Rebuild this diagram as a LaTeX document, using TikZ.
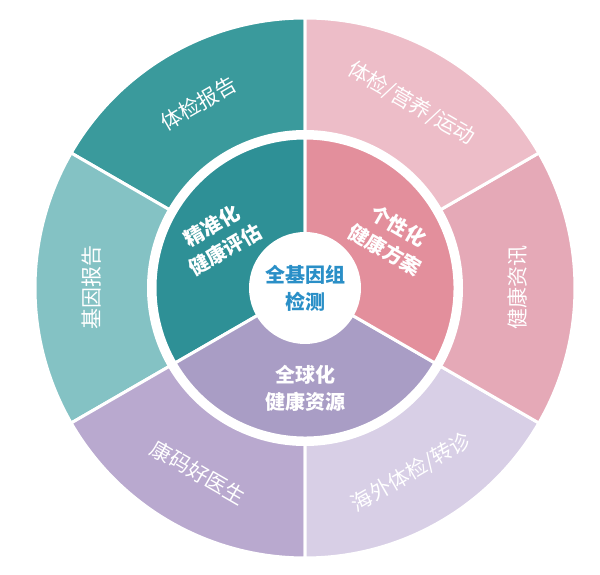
\documentclass[tikz,border=0pt]{standalone}
\usepackage{fontspec}
\newfontfamily\cjk{Noto Sans CJK SC}
\usetikzlibrary{positioning}
\definecolor{tealA}{HTML}{3A9A9C}
\definecolor{tealB}{HTML}{84C2C4}
\definecolor{mauveA}{HTML}{B9A9CF}
\definecolor{mauveB}{HTML}{D8CFE6}
\definecolor{pinkA}{HTML}{E5A9B7}
\definecolor{pinkB}{HTML}{EDBDC8}
\definecolor{tealI}{HTML}{2E9096}
\definecolor{pinkI}{HTML}{E38F9C}
\definecolor{mauveI}{HTML}{A99DC5}
\definecolor{blueT}{HTML}{2A8FC7}
\tikzset{
  outer_t/.style = {white, font=\cjk\fontsize{21}{24}\selectfont},
  inner_t/.style = {white, align=center, font=\cjk\bfseries\fontsize{20}{27}\selectfont},
  seg/.style = {draw=white, line width=3pt}
}
\begin{document}
\begin{tikzpicture}[x=1pt,y=1pt]
\useasboundingbox (0,0) rectangle (600,575);
\coordinate (c) at (305,287);
% outer ring
\foreach \a/\col/\txt [count=\i] in {90/tealA/{体检报告}, 150/tealB/{基因报告},
    210/mauveA/{康码好医生}, 270/mauveB/{海外体检/转诊}, 330/pinkA/{健康资讯},
    30/pinkB/{体检/营养/运动}}{
  \fill[\col,seg] (c) -- ++(\a:270) arc[start angle=\a, delta angle=60, radius=270] -- cycle;
  \pgfmathsetmacro\m{\a+30}
  \pgfmathsetmacro\r{\m<=180 ? \m-90 : \m+90}
  \node[outer_t, rotate=\r] (o\i) at ([shift={(\m:213)}]c) {\txt};
}
% inner disc
\fill[white] (c) circle[radius=158];
\foreach \a/\col [count=\i] in {90/tealI, 210/mauveI, 330/pinkI}{
  \fill[\col,seg] (c) -- ++(\a:150) arc[start angle=\a, delta angle=120, radius=150] -- cycle;
}
\node[inner_t, rotate=30] (s1) at ([shift={(150:100)}]c) {精准化\\健康评估};
\node[inner_t, rotate=-30] (s2) at ([shift={(30:100)}]c) {个性化\\健康方案};
\node[inner_t] (s3) at ([shift={(270:100)}]c) {全球化\\健康资源};
% centre
\fill[white] (c) circle[radius=56];
\node[blueT, align=center, font=\cjk\bfseries\fontsize{20}{27}\selectfont] (ctr) at (c) {全基因组\\检测};
\end{tikzpicture}
\end{document}
